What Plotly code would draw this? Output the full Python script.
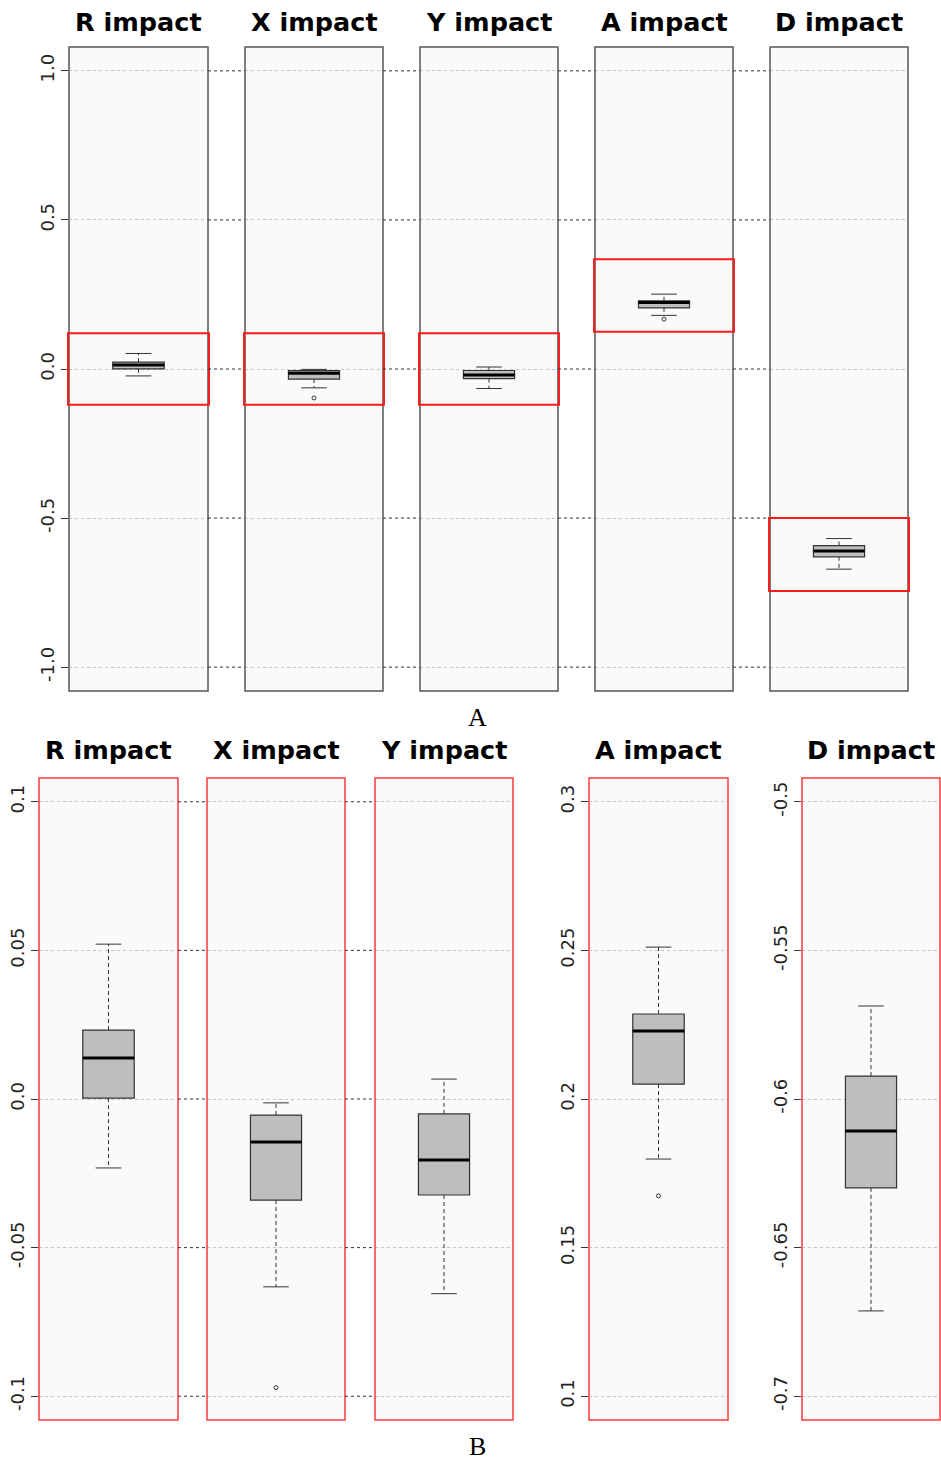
import plotly.graph_objects as go

W, H = 941, 1461

# Box-plot summaries per impact
impacts = ["R impact", "X impact", "Y impact", "A impact", "D impact"]
upper_whisker = [0.0521, -0.0013, 0.0067, 0.2511, -0.5687]
q3 = [0.0232, -0.0054, -0.0050, 0.2286, -0.5923]
median = [0.0138, -0.0145, -0.0205, 0.2229, -0.6108]
q1 = [0.0003, -0.0340, -0.0323, 0.2050, -0.6299]
lower_whisker = [-0.0232, -0.0632, -0.0655, 0.1798, -0.6713]
outliers = [[], [-0.0971], [], [0.1674], []]

# Overview axis (row A) and zoomed axes (row B)
ticks_A = [-1.0, -0.5, 0.0, 0.5, 1.0]
tick_text_A = ["-1.0", "-0.5", "0.0", "0.5", "1.0"]
lim_A = (-1.0, 1.0)
lims_B = [(-0.1, 0.1), (-0.1, 0.1), (-0.1, 0.1), (0.1, 0.3), (-0.7, -0.5)]
ticks_B = [
    [-0.1, -0.05, 0.0, 0.05, 0.1],
    [-0.1, -0.05, 0.0, 0.05, 0.1],
    [-0.1, -0.05, 0.0, 0.05, 0.1],
    [0.1, 0.15, 0.2, 0.25, 0.3],
    [-0.7, -0.65, -0.6, -0.55, -0.5],
]
tick_text_B = [
    ["-0.1", "-0.05", "0.0", "0.05", "0.1"],
    ["-0.1", "-0.05", "0.0", "0.05", "0.1"],
    ["-0.1", "-0.05", "0.0", "0.05", "0.1"],
    ["0.1", "0.15", "0.2", "0.25", "0.3"],
    ["-0.7", "-0.65", "-0.6", "-0.55", "-0.5"],
]
# Highlighted windows on the overview row
highlight = [(-0.12, 0.12), (-0.12, 0.12), (-0.12, 0.12), (0.125, 0.368), (-0.745, -0.5)]

# Layout geometry (pixels)
cols_A = [(69, 208), (245, 383), (420, 558), (595, 733), (770, 908)]
cols_B = [(39, 178), (207, 345), (375, 513), (589, 728), (802, 940)]
row_A = (47, 691)
row_B = (778, 1420)


def px_x(p):
    return p / W


def px_y(p):
    return 1 - p / H


def extend(lo, hi, f=0.04):
    d = (hi - lo) * f
    return [lo - d, hi + d]


X_RANGE = [0.46, 1.54]
BOX_W = 0.4
BOX_FILL = "#BEBEBE"
EDGE = "#333333"
GRID_IN = "#C4C4C4"
GRID_GAP = "#333333"
TICK_FONT = dict(family="DejaVu Sans", size=18, color="#222222")
TITLE_FONT = dict(family="DejaVu Sans", size=25.5, color="#000000")

fig = go.Figure()
layout = {}
shapes = []
annotations = []


def add_box(i, ax):
    xa = "x" if ax == 1 else f"x{ax}"
    ya = "y" if ax == 1 else f"y{ax}"
    fig.add_trace(go.Box(
        x=[1], q1=[q1[i]], median=[median[i]], q3=[q3[i]],
        lowerfence=[q1[i]], upperfence=[q3[i]], width=BOX_W,
        whiskerwidth=0, boxpoints=False, fillcolor=BOX_FILL,
        line=dict(color=EDGE, width=1.2), xaxis=xa, yaxis=ya,
        showlegend=False, hoverinfo="skip",
    ))
    # dashed whiskers
    fig.add_trace(go.Scatter(
        x=[1, 1, None, 1, 1],
        y=[q3[i], upper_whisker[i], None, q1[i], lower_whisker[i]],
        mode="lines", line=dict(color=EDGE, width=1, dash="4px,3px"),
        xaxis=xa, yaxis=ya, showlegend=False, hoverinfo="skip",
    ))
    # whisker caps
    fig.add_trace(go.Scatter(
        x=[1 - BOX_W / 4, 1 + BOX_W / 4, None, 1 - BOX_W / 4, 1 + BOX_W / 4],
        y=[upper_whisker[i], upper_whisker[i], None, lower_whisker[i], lower_whisker[i]],
        mode="lines", line=dict(color=EDGE, width=1),
        xaxis=xa, yaxis=ya, showlegend=False, hoverinfo="skip",
    ))
    # heavy median bar
    fig.add_trace(go.Scatter(
        x=[1 - BOX_W / 2, 1 + BOX_W / 2], y=[median[i], median[i]],
        mode="lines", line=dict(color="#000000", width=3),
        xaxis=xa, yaxis=ya, showlegend=False, hoverinfo="skip",
    ))
    if outliers[i]:
        fig.add_trace(go.Scatter(
            x=[1] * len(outliers[i]), y=outliers[i], mode="markers",
            marker=dict(symbol="circle-open", size=4, color=EDGE, line=dict(width=1)),
            xaxis=xa, yaxis=ya, showlegend=False, hoverinfo="skip",
        ))


def set_axes(ax, col, row, lim, tickvals, ticktext, show_labels):
    xk = "xaxis" if ax == 1 else f"xaxis{ax}"
    yk = "yaxis" if ax == 1 else f"yaxis{ax}"
    layout[xk] = dict(
        domain=[px_x(col[0]), px_x(col[1])], range=X_RANGE,
        showticklabels=False, showgrid=False, zeroline=False, ticks="",
        anchor="y" if ax == 1 else f"y{ax}", fixedrange=True,
    )
    layout[yk] = dict(
        domain=[px_y(row[1]), px_y(row[0])], range=extend(*lim),
        tickmode="array", tickvals=tickvals, ticktext=ticktext,
        showticklabels=show_labels, ticks="outside" if show_labels else "",
        ticklen=7, tickwidth=1, tickcolor="#333333", tickangle=-90,
        tickfont=TICK_FONT, showgrid=True, gridcolor=GRID_IN, gridwidth=1,
        griddash="dot", zeroline=False, showline=False,
        anchor="x" if ax == 1 else f"x{ax}", fixedrange=True,
        ticklabelstandoff=0,
    )


# Row A: overview panels on a common scale
for i in range(5):
    ax = i + 1
    add_box(i, ax)
    set_axes(ax, cols_A[i], row_A, lim_A, ticks_A, tick_text_A, i == 0)
    xd = "x domain" if ax == 1 else f"x{ax} domain"
    yd = "y domain" if ax == 1 else f"y{ax} domain"
    yr = "y" if ax == 1 else f"y{ax}"
    shapes.append(dict(type="rect", xref=xd, yref=yd, x0=0, x1=1, y0=0, y1=1,
                       line=dict(color="#555555", width=1.5), layer="above"))
    shapes.append(dict(type="rect", xref=xd, yref=yr, x0=-0.007, x1=1.007,
                       y0=highlight[i][0], y1=highlight[i][1],
                       line=dict(color="#FF1A1A", width=2), layer="above"))
    annotations.append(dict(text=f"<b>{impacts[i]}</b>", x=px_x((cols_A[i][0] + cols_A[i][1]) / 2),
                            y=px_y(22), xref="paper", yref="paper", showarrow=False,
                            font=TITLE_FONT, xanchor="center", yanchor="middle"))
    if i < 4:
        for v in ticks_A:
            shapes.append(dict(type="line", xref="paper", yref="y",
                               x0=px_x(cols_A[i][1]), x1=px_x(cols_A[i + 1][0]), y0=v, y1=v,
                               line=dict(color=GRID_GAP, width=1, dash="dot")))

# Row B: zoomed panels
for i in range(5):
    ax = i + 6
    add_box(i, ax)
    show = i in (0, 3, 4)
    set_axes(ax, cols_B[i], row_B, lims_B[i], ticks_B[i], tick_text_B[i], show)
    xd = f"x{ax} domain"
    yd = f"y{ax} domain"
    shapes.append(dict(type="rect", xref=xd, yref=yd, x0=0, x1=1, y0=0, y1=1,
                       line=dict(color="#FF3838", width=1.5), layer="above"))
    annotations.append(dict(text=f"<b>{impacts[i]}</b>", x=px_x((cols_B[i][0] + cols_B[i][1]) / 2),
                            y=px_y(750), xref="paper", yref="paper", showarrow=False,
                            font=TITLE_FONT, xanchor="center", yanchor="middle"))
    if i < 2:
        for v in ticks_B[0]:
            shapes.append(dict(type="line", xref="paper", yref="y6",
                               x0=px_x(cols_B[i][1]), x1=px_x(cols_B[i + 1][0]), y0=v, y1=v,
                               line=dict(color=GRID_GAP, width=1, dash="dot")))

# Panel letters
for letter, py in (("A", 717), ("B", 1446)):
    annotations.append(dict(text=letter, x=px_x(477), y=px_y(py), xref="paper", yref="paper",
                            showarrow=False, xanchor="center", yanchor="middle",
                            font=dict(family="Liberation Serif", size=26, color="#000000")))

fig.update_layout(
    width=W, height=H, margin=dict(l=0, r=0, t=0, b=0),
    paper_bgcolor="#FFFFFF", plot_bgcolor="#FAFAFA",
    showlegend=False, shapes=shapes, annotations=annotations, **layout,
)

fig.write_html("out.html", config={"displayModeBar": False})
